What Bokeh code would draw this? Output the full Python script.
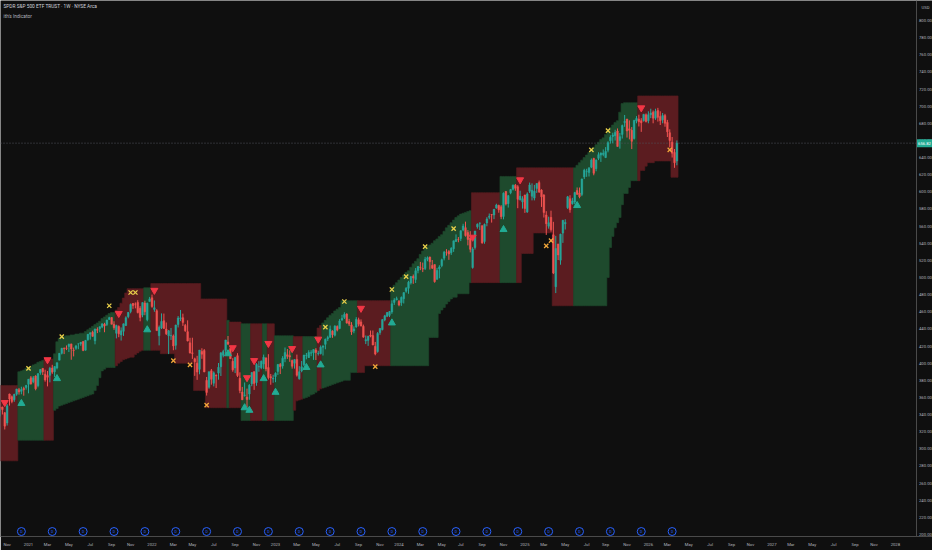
import pandas as pd
from bokeh.plotting import figure
from bokeh.models import (ColumnDataSource, FixedTicker, Range1d, AllLabels, Span)
from bokeh.core.properties import value
from bokeh.embed import file_html
from bokeh.resources import INLINE

# ---------------- data ----------------
FIRST_BAR = "2020-10-05"   # weekly bars (Mondays)

opens = [
    338.0, 348.6, 348.7, 342.1, 330.2, 364.0, 360.9, 357.3, 363.8, 369.0, 367.2, 370.5, 371.7,
    # 2021
    375.3, 382.9, 378.3, 385.0, 373.7, 388.8, 393.9, 387.1, 385.6, 385.8, 394.3, 390.0, 394.4,
    403.5, 411.5, 417.4, 417.8, 419.4, 422.5, 415.4, 417.3, 422.6, 422.6, 425.4, 415.2, 427.2,
    433.8, 436.2, 426.2, 439.3, 440.3, 442.1, 445.6, 445.2, 451.0, 453.3, 445.4, 434.9, 442.8,
    433.0, 437.2, 444.0, 454.3, 460.3, 469.7, 469.0, 470.9, 464.1, 456.1, 470.2, 450.7, 472.1,
    # 2022
    476.3, 462.7, 461.2, 432.0, 441.2, 449.5, 439.9, 431.9, 432.0, 431.8, 420.9, 445.0, 452.1,
    453.1, 444.1, 436.8, 423.7, 412.1, 405.1, 400.0, 392.8, 413.6, 414.8, 379.9, 371.9, 391.1,
    376.6, 385.9, 388.4, 395.8, 409.2, 414.7, 424.8, 417.1, 402.2, 394.5, 408.8, 382.3, 366.4,
    362.4, 360.5, 364.0, 375.9, 390.1, 377.4, 395.6, 394.6, 399.1, 406.0, 394.9, 384.2, 381.6,
    # 2023
    384.4, 390.4, 398.5, 396.7, 405.2, 409.8, 408.7, 403.1, 399.9, 404.4, 381.8, 390.8, 398.1,
    408.9, 406.6, 411.7, 412.0, 415.5, 411.1, 411.1, 418.6, 422.0, 428.3, 430.2, 437.4, 432.6,
    442.9, 440.5, 450.5, 453.4, 457.4, 448.7, 444.7, 437.6, 442.2, 450.7, 448.2, 443.0, 426.0,
    426.6, 432.8, 432.2, 419.6, 413.6, 435.7, 439.2, 450.5, 454.7, 455.8, 459.7, 470.9, 474.1,
    # 2024
    472.2, 470.6, 475.3, 484.0, 487.4, 493.7, 501.2, 497.7, 508.3, 512.0, 510.5, 510.5, 521.2,
    523.8, 514.1, 515.1, 497.9, 510.1, 513.8, 522.6, 529.6, 530.3, 529.0, 533.6, 542.1, 544.3,
    545.6, 555.4, 558.2, 552.4, 546.0, 511.6, 535.0, 559.2, 563.2, 560.5, 542.0, 563.7, 570.4,
    573.4, 572.9, 581.2, 584.1, 582.6, 571.3, 600.5, 586.2, 598.9, 603.0, 607.7, 606.0, 590.9, 588.2,
    # 2025
    596.3, 576.5, 600.7, 594.8, 592.7, 604.0, 610.9, 602.0, 596.2, 573.0, 559.9, 570.2, 549.8,
    489.2, 539.2, 520.2, 551.8, 562.6, 581.5, 592.0, 586.2, 588.0, 601.6, 598.6, 597.0, 617.4,
    623.4, 622.7, 628.8, 638.9, 627.0, 639.1, 642.9, 643.7, 640.0, 648.6, 659.7, 664.6, 665.6,
    671.0, 660.0, 667.0, 681.0, 685.0, 673.5, 671.8, 662.2, 682.7, 685.0, 683.0, 683.0, 690.0,
    # 2026
    683.0, 690.0, 693.0, 686.0, 695.0, 688.0, 684.0, 689.0, 681.0, 669.0, 658.0, 646.0, 636.0,
]
highs = [
    347.4, 354.0, 349.3, 342.9, 352.2, 364.4, 362.3, 364.2, 370.0, 371.1, 372.5, 372.5, 374.7,
    381.5, 385.0, 385.0, 385.9, 388.5, 393.0, 394.2, 392.4, 390.9, 395.7, 398.1, 396.4, 400.7,
    411.7, 417.9, 418.3, 420.7, 422.8, 422.7, 418.2, 421.3, 422.9, 424.6, 425.5, 427.1, 434.1,
    435.8, 437.9, 440.3, 441.8, 442.9, 446.3, 447.1, 450.7, 454.1, 453.6, 448.9, 444.9, 444.1,
    441.7, 446.3, 454.7, 459.6, 469.7, 470.2, 470.9, 473.5, 466.6, 470.9, 472.9, 470.6, 477.3,
    480.0, 473.2, 463.0, 444.0, 458.1, 457.9, 447.5, 438.7, 441.1, 433.4, 444.9, 455.0, 462.1,
    457.8, 445.8, 450.0, 429.6, 429.7, 406.4, 408.6, 415.4, 417.4, 416.5, 383.9, 390.1, 393.2,
    390.4, 386.9, 400.2, 413.0, 415.7, 427.2, 431.7, 420.0, 405.8, 407.5, 411.7, 389.3, 372.3,
    377.5, 370.3, 375.5, 389.5, 390.4, 400.0, 402.3, 403.1, 410.0, 406.9, 410.5, 387.4, 386.5,
    389.3, 399.1, 400.2, 408.2, 418.3, 416.5, 415.0, 404.2, 404.5, 410.0, 396.5, 402.5, 409.7,
    411.9, 415.1, 415.1, 416.0, 417.6, 414.5, 420.7, 420.8, 428.7, 432.0, 443.9, 438.4, 444.3,
    444.1, 451.4, 456.4, 459.4, 458.2, 451.7, 447.9, 443.0, 453.7, 453.1, 451.1, 445.0, 432.3,
    431.9, 438.1, 438.1, 424.8, 436.3, 441.0, 451.4, 456.4, 459.7, 460.8, 473.3, 475.9, 477.6,
    473.7, 477.9, 482.7, 488.8, 496.1, 501.7, 503.5, 511.0, 513.3, 518.2, 517.4, 524.1, 524.6,
    524.4, 520.4, 515.3, 511.2, 514.3, 522.0, 531.0, 533.1, 532.0, 535.4, 543.1, 550.3, 547.2,
    555.0, 562.7, 565.2, 555.3, 554.1, 535.3, 554.3, 563.2, 564.2, 560.8, 563.0, 570.4, 574.7,
    574.1, 580.0, 586.1, 585.0, 584.5, 599.4, 600.9, 596.3, 603.4, 608.5, 609.1, 607.8, 601.3, 594.9,
    596.6, 599.4, 610.8, 609.9, 608.1, 610.0, 613.2, 603.0, 597.3, 577.4, 571.0, 578.0, 565.0,
    548.6, 539.2, 551.1, 567.2, 568.0, 595.2, 596.0, 593.0, 600.0, 605.1, 605.0, 615.5, 626.9,
    626.9, 629.0, 639.0, 639.8, 637.7, 646.2, 646.0, 649.5, 652.2, 659.0, 666.0, 669.0, 672.5,
    674.0, 668.7, 678.5, 689.7, 685.1, 683.4, 675.6, 684.0, 688.4, 690.0, 686.0, 691.0, 691.5,
    694.0, 697.0, 695.0, 697.0, 698.0, 694.0, 692.0, 691.0, 684.0, 673.0, 664.0, 650.0, 660.0,
]
lows = [
    337.5, 343.1, 340.1, 322.6, 327.2, 350.5, 353.2, 354.9, 362.0, 363.3, 363.7, 362.0, 369.1,
    364.8, 375.0, 376.6, 368.3, 371.8, 386.5, 386.2, 378.4, 372.9, 377.6, 387.5, 383.9, 392.8,
    403.4, 410.2, 410.6, 415.3, 413.0, 404.0, 407.9, 415.6, 416.3, 420.3, 414.0, 414.7, 426.3,
    427.5, 430.9, 422.0, 435.1, 436.1, 440.9, 436.1, 443.4, 450.7, 445.3, 438.9, 428.9, 430.3,
    426.4, 431.8, 443.3, 452.4, 458.2, 463.4, 464.0, 458.1, 448.9, 453.6, 456.0, 448.9, 472.0,
    464.7, 460.0, 437.9, 420.8, 439.8, 440.3, 432.9, 410.6, 427.1, 415.1, 415.8, 441.7, 449.1,
    443.5, 436.6, 425.4, 411.2, 405.0, 385.2, 380.5, 387.0, 405.1, 389.5, 362.2, 370.2, 374.9,
    372.9, 371.0, 380.7, 385.0, 406.8, 410.4, 421.6, 405.2, 390.0, 388.4, 383.9, 364.9, 357.0,
    360.9, 348.1, 357.3, 373.1, 368.8, 373.6, 390.0, 392.9, 393.3, 390.5, 381.0, 374.8, 377.1,
    377.8, 386.3, 387.3, 393.6, 401.1, 405.0, 401.6, 393.6, 393.6, 384.3, 380.7, 389.4, 396.5,
    404.5, 406.0, 408.2, 403.8, 403.7, 408.9, 410.2, 408.9, 416.2, 425.8, 429.6, 429.6, 431.2,
    437.1, 439.7, 449.3, 451.5, 446.3, 443.3, 433.0, 434.9, 441.4, 442.9, 442.9, 429.7, 422.3,
    420.2, 430.2, 421.0, 409.2, 412.2, 433.1, 438.2, 448.9, 453.8, 453.8, 457.6, 468.0, 473.3,
    466.4, 466.9, 469.7, 482.2, 481.0, 491.8, 492.6, 493.6, 504.9, 508.6, 506.3, 508.7, 519.0,
    509.3, 509.9, 493.9, 497.3, 499.1, 512.0, 520.0, 525.5, 520.6, 526.4, 529.9, 541.6, 541.1,
    542.5, 554.0, 547.7, 537.5, 529.3, 510.3, 532.6, 557.0, 555.4, 539.4, 539.4, 559.8, 568.0,
    564.1, 568.1, 580.2, 575.6, 568.1, 567.9, 584.1, 581.6, 597.2, 601.6, 601.2, 580.9, 589.8, 580.4,
    575.4, 575.4, 598.6, 590.0, 590.0, 598.7, 598.6, 582.4, 570.0, 549.7, 557.0, 553.5, 504.0,
    481.8, 520.4, 514.9, 540.4, 556.0, 580.0, 575.6, 585.0, 585.5, 596.9, 592.5, 595.0, 614.9,
    617.5, 617.9, 627.6, 619.3, 624.0, 637.0, 634.9, 641.5, 639.4, 646.1, 656.3, 656.7, 659.9,
    652.8, 650.4, 662.2, 675.9, 663.3, 661.2, 649.9, 661.0, 680.0, 676.3, 670.0, 682.0, 681.0,
    680.0, 686.0, 680.0, 684.0, 682.0, 678.0, 680.0, 676.0, 664.0, 652.0, 640.0, 628.0, 631.0,
]
closes = [
    346.9, 347.3, 345.8, 326.5, 350.2, 358.1, 355.3, 363.7, 369.9, 366.3, 369.2, 369.0, 373.9,
    381.3, 375.7, 382.9, 370.1, 387.7, 392.6, 390.0, 380.4, 383.6, 394.1, 389.5, 396.0, 400.6,
    411.5, 417.3, 416.7, 417.3, 422.1, 416.6, 414.9, 420.0, 422.6, 424.3, 414.9, 426.6, 433.7,
    435.5, 431.3, 439.9, 438.5, 442.5, 445.9, 443.4, 450.3, 453.1, 445.4, 441.4, 443.9, 434.2,
    437.9, 445.9, 453.1, 459.3, 468.5, 467.3, 468.9, 459.0, 453.4, 470.7, 459.9, 470.0, 475.0,
    466.1, 464.7, 438.0, 442.0, 448.7, 440.5, 434.2, 437.8, 432.2, 420.1, 444.5, 452.7, 452.9,
    447.6, 437.8, 426.0, 412.0, 411.3, 401.7, 389.6, 415.3, 410.5, 389.8, 365.9, 390.1, 381.2,
    388.7, 385.1, 395.1, 412.0, 413.5, 427.1, 422.1, 405.3, 392.2, 406.6, 385.6, 368.0, 357.2,
    362.8, 357.6, 374.3, 389.0, 376.4, 398.5, 396.0, 402.3, 406.9, 393.3, 383.3, 382.9, 382.4,
    388.1, 398.5, 395.9, 405.7, 412.4, 408.0, 407.3, 396.4, 404.2, 385.9, 390.0, 395.8, 409.4,
    409.2, 412.5, 412.2, 415.9, 412.6, 411.6, 418.6, 420.0, 427.9, 429.9, 439.5, 433.2, 443.3,
    438.6, 449.3, 452.2, 456.9, 446.8, 445.6, 436.5, 440.0, 451.2, 445.5, 443.4, 430.4, 427.5,
    431.5, 431.5, 421.2, 410.7, 434.7, 440.6, 450.8, 455.3, 459.1, 460.2, 469.3, 473.7, 475.3,
    467.9, 476.7, 482.4, 487.4, 494.4, 501.2, 499.5, 507.9, 512.9, 511.7, 509.8, 521.2, 523.1,
    518.4, 510.9, 495.2, 508.3, 512.3, 520.8, 529.5, 529.4, 527.4, 534.0, 542.8, 544.5, 544.2,
    554.6, 560.0, 549.0, 544.4, 532.9, 533.3, 554.3, 562.1, 563.7, 540.4, 562.0, 568.3, 571.5,
    573.0, 579.6, 584.6, 579.0, 571.0, 598.2, 585.8, 595.5, 602.6, 607.8, 604.2, 591.2, 595.0, 592.0,
    580.5, 597.6, 608.0, 601.8, 600.8, 609.7, 599.9, 594.2, 575.9, 562.8, 564.0, 555.7, 505.3,
    533.9, 526.4, 550.6, 566.8, 564.3, 594.2, 579.1, 589.4, 599.1, 597.0, 594.3, 614.9, 625.3,
    623.6, 627.6, 637.1, 621.7, 637.2, 643.4, 645.3, 645.1, 647.2, 657.4, 663.7, 666.2, 669.2,
    653.0, 664.4, 677.3, 682.1, 671.0, 671.9, 659.0, 683.4, 685.7, 681.8, 680.6, 690.4, 682.0,
    690.0, 692.0, 686.0, 694.0, 687.0, 683.0, 689.0, 680.0, 670.0, 660.0, 645.0, 634.0, 656.82,
]

# indicator channel, one value per weekly bar
band_upper = [
    374, 374, 374, 374, 374, 374, 374, 374, 374,
    390, 391, 392, 394, 395, 396, 398, 399, 401, 402, 403,
    405, 405, 405, 405,
    411, 425, 429, 430, 431, 432, 432, 433, 433, 434, 434, 435, 435,
    437, 439, 441, 443, 445, 447, 449, 452, 454, 456, 458, 459, 459,
    462, 465, 470, 476, 482, 487, 487, 487, 487, 487, 487, 487,
    488, 488, 488,
    493, 493, 493, 493, 493, 493, 493, 493, 493, 493,
    493, 493, 493, 493, 493, 493, 493, 493, 493, 493, 493,
    475, 475, 475, 475, 475, 475, 475, 475, 475, 475, 475,
    450,
    448, 448, 448, 448, 448,
    446, 446, 446, 446, 446, 446, 446, 446, 446, 446, 446, 446, 446, 446,
    432, 432, 432, 432, 432, 432, 432, 432,
    431, 431, 431, 431, 431, 431, 431, 431, 431, 431,
    441, 444, 447, 450, 453, 456, 458, 461, 463, 465,
    473, 473, 473, 473, 473, 473, 473, 473, 473, 473,
    473, 473, 473, 473, 473, 473, 473, 473, 473, 473, 473,
    488, 491, 494, 497, 500, 503, 506, 508, 512, 516, 519, 522, 527, 531, 534, 536, 538,
    540, 543, 545, 548, 550, 554, 558, 561, 564, 567, 570, 572, 574, 575, 576, 577, 578,
    599, 599, 599, 599, 599, 599, 599, 599, 599, 599, 599, 599,
    618, 618, 618, 618, 618, 618, 618,
    628, 628, 628, 628, 628, 628, 628, 628, 628, 628,
    628, 628, 628, 628, 628, 628, 628, 628, 628, 628, 628, 628, 628, 628,
    628, 631, 634, 637, 640, 643, 646, 649, 652, 655, 658, 661, 663, 667, 671, 675, 678,
    681, 683, 693, 703, 704, 704, 704, 704, 704, 704,
    712, 712, 712, 712, 712, 712, 712, 712, 712, 712,
    712, 712, 712, 712, 712, 712, 712,
]
band_lower = [
    286, 286, 286, 286, 286, 286, 286, 286, 286,
    310, 310, 310, 310, 310, 310, 310, 310, 310, 310, 310, 310, 310, 310, 310,
    345, 347, 350, 351, 352, 353, 354, 355, 356, 357, 358, 359, 360,
    361, 362, 363, 364, 368, 374, 383, 391, 393, 395, 395, 395, 395,
    397, 400, 402, 404, 405, 406, 407, 407, 410, 412, 414, 415,
    415, 415, 415, 415, 415, 415, 415,
    411, 411, 411, 411, 411, 411,
    400, 400, 400, 400, 400, 400, 400, 400,
    368, 368, 368, 368, 368,
    348, 348, 348, 348, 348, 348, 348, 348, 348, 348, 348, 348, 348, 348, 348,
    333, 333, 333, 333, 333, 333, 333, 333, 333, 333,
    333, 333, 333, 333, 333, 333, 333, 333, 333, 333, 333, 333,
    345, 356, 357, 358, 359, 360, 361, 363, 364, 366, 368, 370,
    371, 372, 373, 374, 375, 376, 377, 378, 379, 380, 380, 380,
    389, 389, 389, 389, 389, 389,
    397, 397, 397, 397, 397, 397, 397, 397, 397, 397,
    397, 397, 397, 397, 397, 397, 397, 397, 397, 397,
    397, 397, 397, 397, 397, 397, 397,
    430, 430, 430, 430,
    458, 462, 465, 469, 472, 475, 477, 477,
    481, 481, 481, 481, 481,
    494, 494, 494, 494, 494, 494, 494, 494, 494, 494,
    494, 494, 494, 494, 494, 494, 494, 494, 494, 494, 494, 494,
    528, 528, 528, 528, 528,
    552, 552, 552, 552, 552, 552, 552, 552,
    467, 467, 467, 467, 467, 467, 467, 467, 467, 467,
    467, 467, 467, 467, 467, 467, 467, 467, 467, 467, 467, 467, 467,
    500, 535, 548, 558, 564, 570, 585, 598, 598, 605,
    613, 613, 613, 613, 625, 625, 630, 634, 634, 634,
    636, 636, 636, 636, 636, 636, 636,
    617, 617, 617,
]
# trend state of the channel: (state, number of consecutive weekly bars)
regime_runs = [("R", 9), ("G", 11), ("R", 4), ("G", 26), ("R", 12), ("G", 3), ("R", 32),
               ("G", 1), ("R", 5), ("G", 4), ("R", 5), ("G", 2), ("R", 3), ("G", 8),
               ("R", 4), ("G", 6), ("R", 2), ("G", 15), ("R", 14), ("G", 34), ("R", 12),
               ("G", 7), ("R", 24), ("G", 27), ("R", 17)]

sell_dates = ["2020-10-26", "2021-03-01", "2021-09-27", "2022-01-10", "2022-08-29", "2022-10-10",
              "2022-10-31", "2022-12-12", "2023-02-20", "2023-05-08", "2023-09-11", "2024-08-05",
              "2024-12-23", "2025-12-15"]
sell_prices = [354, 404, 458, 485, 418, 383, 403, 423, 417, 428, 464, 547, 614, 698]
buy_dates = ["2020-12-14", "2021-03-29", "2021-12-20", "2022-08-15", "2022-10-03", "2022-10-17",
             "2022-11-28", "2023-01-02", "2023-04-03", "2023-05-15", "2023-12-11", "2024-11-04",
             "2025-06-09"]
buy_prices = [353, 382, 439, 411, 348, 345, 382, 366, 395, 398, 447, 556, 584]
x_top_dates = ["2021-01-04", "2021-04-12", "2021-08-30", "2021-11-01", "2021-11-15", "2023-05-29",
               "2023-07-24", "2023-12-11", "2024-01-22", "2024-03-18", "2024-06-10", "2025-07-21",
               "2025-09-08"]
x_top_prices = [394, 431, 467, 482.5, 482.5, 442, 472, 486, 501, 536, 557, 649, 671.5]
x_bot_dates = ["2022-03-07", "2022-04-25", "2022-06-13", "2023-10-23", "2025-03-10", "2025-03-24",
               "2026-03-09"]
x_bot_prices = [403, 398, 351, 396, 537, 543, 649]

dividend_weeks = ["2020-12-14", "2021-03-15", "2021-06-14", "2021-09-13", "2021-12-13",
                  "2022-03-14", "2022-06-13", "2022-09-12", "2022-12-12", "2023-03-13",
                  "2023-06-12", "2023-09-11", "2023-12-11", "2024-03-11", "2024-06-17",
                  "2024-09-16", "2024-12-16", "2025-03-17", "2025-06-16", "2025-09-15",
                  "2025-12-15", "2026-03-16"]

y_ticks = [200, 220, 240, 260, 280, 300, 320, 340, 360, 380, 400, 420, 440, 460, 480, 500,
           520, 540, 560, 580, 600, 620, 640, 660, 680, 700, 720, 740, 760, 780, 800]
tick_months = ["2020-11", "2021-01", "2021-03", "2021-05", "2021-07", "2021-09", "2021-11",
               "2022-01", "2022-03", "2022-05", "2022-07", "2022-09", "2022-11",
               "2023-01", "2023-03", "2023-05", "2023-07", "2023-09", "2023-11",
               "2024-01", "2024-03", "2024-05", "2024-07", "2024-09", "2024-11",
               "2025-01", "2025-03", "2025-05", "2025-07", "2025-09", "2025-11",
               "2026-01", "2026-03", "2026-05", "2026-07", "2026-09", "2026-11",
               "2027-01", "2027-03", "2027-05", "2027-07", "2027-09", "2027-11", "2028-01"]
tick_labels = ["Nov", "2021", "Mar", "May", "Jul", "Sep", "Nov",
               "2022", "Mar", "May", "Jul", "Sep", "Nov",
               "2023", "Mar", "May", "Jul", "Sep", "Nov",
               "2024", "Mar", "May", "Jul", "Sep", "Nov",
               "2025", "Mar", "May", "Jul", "Sep", "Nov",
               "2026", "Mar", "May", "Jul", "Sep", "Nov",
               "2027", "Mar", "May", "Jul", "Sep", "Nov", "2028"]

TITLE = "SPDR S&P 500 ETF TRUST \u00b7 1W \u00b7 NYSE Arca"
SUBTITLE = "ith's Indicator"
CURRENCY = "USD"
LAST_PRICE = 656.82

# ---------------- styling / layout ----------------
W, H = 932, 550
AXIS_X_PX = 916          # price scale starts here
FRAME_H = 536            # time scale below this
BG = "#0f0f0f"
UP = "#26a69a"
DN = "#ef5350"
BAND_G = "#1e4a2d"
BAND_R = "#5b1c20"
TXT = "#b2b5be"
AXIS_LINE = "#4a4a4a"
FONT = "Roboto"
DAY = 86400000
BAR_PX = 2.375           # pixels per weekly bar

n = len(closes)
for name, arr in [("opens", opens), ("highs", highs), ("lows", lows),
                  ("band_upper", band_upper), ("band_lower", band_lower)]:
    assert len(arr) == n, (name, len(arr), n)


def ms(d):
    return int(pd.Timestamp(d).value // 10**6)


dates = pd.date_range(FIRST_BAR, periods=n, freq="W-MON")
xs = [ms(d) for d in dates]
regime = "".join(s * k for s, k in regime_runs)
assert len(regime) == n, len(regime)

# time mapping: first bar of 2021 sits 28 px from the left edge
px_per_ms = BAR_PX / (7 * DAY)
x_start = ms("2021-01-04") - 28 / px_per_ms
x_end = x_start + W / px_per_ms
x_axis = x_start + AXIS_X_PX / px_per_ms
# price mapping: 500 at 277 px, 0.8567 px per dollar
px_per_usd = 0.8567
y_hi = 500 + 277 / px_per_usd
y_lo = y_hi - FRAME_H / px_per_usd

src = ColumnDataSource(dict(
    x=xs,
    o=opens, h=highs, l=lows, c=closes,
    top=[max(a, b) for a, b in zip(opens, closes)],
    bot=[min(a, b) for a, b in zip(opens, closes)],
    col=[UP if c >= o else DN for o, c in zip(opens, closes)],
))

# channel polygons, one per run of equal trend state
band_xs, band_ys, band_cols = [], [], []
start = 0
for state, k in regime_runs:
    idx = list(range(start, start + k))
    tx, ty, bx, by = [], [], [], []
    for j in idx:
        tx += [xs[j] - 3.5 * DAY, xs[j] + 3.5 * DAY]
        ty += [band_upper[j], band_upper[j]]
    for j in reversed(idx):
        bx += [xs[j] + 3.5 * DAY, xs[j] - 3.5 * DAY]
        by += [band_lower[j], band_lower[j]]
    band_xs.append(tx + bx)
    band_ys.append(ty + by)
    band_cols.append(BAND_G if state == "G" else BAND_R)
    start += k

p = figure(width=W, height=H, x_range=Range1d(x_start, x_end),
           y_range=Range1d(y_lo, y_hi), y_axis_location=None,
           output_backend="svg", toolbar_location=None, tools="")
p.min_border_left = 0
p.min_border_right = 0
p.min_border_top = 0
p.min_border_bottom = H - FRAME_H
p.background_fill_color = BG
p.border_fill_color = BG
p.outline_line_color = None
p.grid.visible = False

p.patches(band_xs, band_ys, fill_color=band_cols, line_color=band_cols, line_width=0.6)

# last price line
p.segment(x0=[x_start], y0=[LAST_PRICE], x1=[x_axis], y1=[LAST_PRICE],
          line_color="#50535b", line_dash="1 2", line_width=1)

# candles
p.segment(x0="x", y0="h", x1="x", y1="l", line_color="col", line_width=1, source=src)
p.vbar(x="x", width=4.8 * DAY, top="top", bottom="bot", fill_color="col",
       line_color="col", line_width=0.5, source=src)

# signals
p.scatter(x=[ms(d) for d in sell_dates], y=sell_prices, marker="inverted_triangle",
          size=7, fill_color="#f23645", line_color="#f23645")
p.scatter(x=[ms(d) for d in buy_dates], y=buy_prices, marker="triangle",
          size=7, fill_color="#22ab94", line_color="#22ab94")
p.scatter(x=[ms(d) for d in x_top_dates], y=x_top_prices, marker="x",
          size=6, line_color="#e8cf4a", line_width=1.3)
p.scatter(x=[ms(d) for d in x_bot_dates], y=x_bot_prices, marker="x",
          size=6, line_color="#f0a63a", line_width=1.3)

# dividend markers along the bottom
div_x = [ms(d) for d in dividend_weeks]
div_y = [y_lo + 5.8] * len(div_x)
p.scatter(x=div_x, y=div_y, marker="circle", size=8, fill_color=BG,
          line_color="#2962ff", line_width=1)
p.text(x=div_x, y=div_y, text=["D"] * len(div_x), text_font=value(FONT),
       text_font_size="3.5px", text_color="#2962ff", text_align="center",
       text_baseline="middle")

# price scale (drawn inside the canvas, right of the chart)
p.add_layout(Span(location=x_axis, dimension="height", line_color=AXIS_LINE, line_width=1))
p.text(x=[x_axis] * len(y_ticks), y=y_ticks, text=["%.2f" % t for t in y_ticks],
       x_offset=2.5, text_font=value(FONT), text_font_size="4.2px", text_color=TXT,
       text_align="left", text_baseline="middle")
p.text(x=[x_axis], y=[y_hi - 7 / px_per_usd], text=[CURRENCY], x_offset=5,
       text_font=value(FONT), text_font_size="4.2px", text_color=TXT,
       text_align="left", text_baseline="middle")
box_x = x_start + (AXIS_X_PX + 8) / px_per_ms
p.rect(x=[box_x], y=[LAST_PRICE], width=15, height=8, width_units="screen",
       height_units="screen", fill_color="#22ab94", line_color=None)
p.text(x=[box_x], y=[LAST_PRICE], text=["%.2f" % LAST_PRICE], text_font=value(FONT),
       text_font_size="4.2px", text_color="#ffffff", text_align="center",
       text_baseline="middle")

# time scale
tick_x = [ms(pd.date_range(m + "-01", periods=1, freq="W-MON")[0]) for m in tick_months]
xa = p.xaxis[0]
xa.ticker = FixedTicker(ticks=tick_x)
xa.major_label_overrides = {t: lab for t, lab in zip(tick_x, tick_labels)}
xa.major_label_text_font_size = "4.2px"
xa.major_label_text_color = TXT
xa.major_label_text_font = FONT
xa.major_tick_line_color = None
xa.minor_tick_line_color = None
xa.major_tick_out = 0
xa.major_tick_in = 0
xa.major_label_standoff = 5
xa.axis_line_color = AXIS_LINE
xa.major_label_policy = AllLabels()

# legend-like header
p.text(x=[x_start, x_start], y=[y_hi - 5.5 / px_per_usd, y_hi - 15.5 / px_per_usd],
       text=[TITLE, SUBTITLE], x_offset=3, text_font=value(FONT),
       text_font_size="4.8px", text_color=["#d1d4dc", "#b2b5be"],
       text_align="left", text_baseline="middle")

open("out.html", "w").write(file_html(p, INLINE))
